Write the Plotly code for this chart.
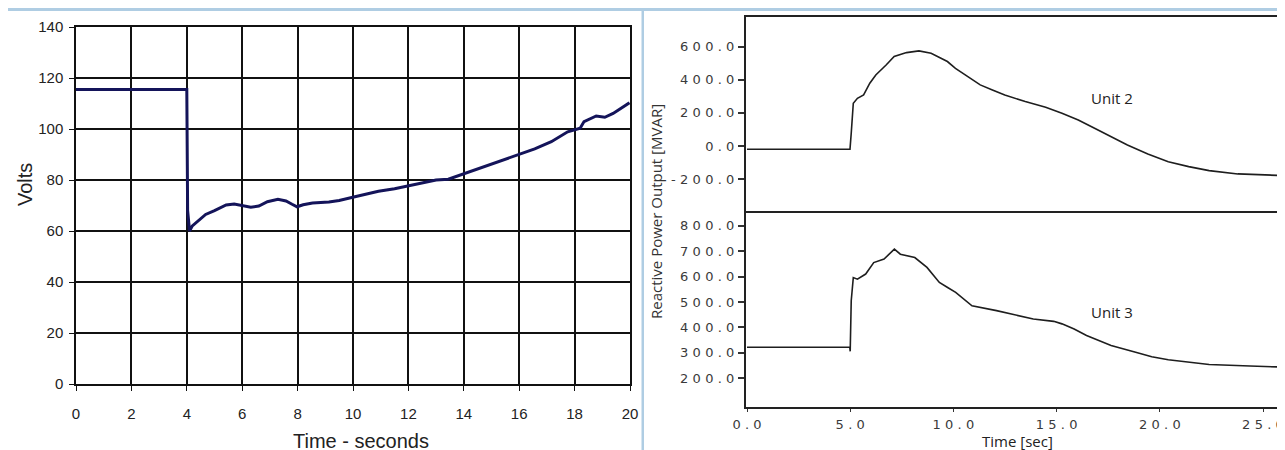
import plotly.graph_objects as go

W, H = 1285, 450

# ---------------- data ----------------
# Left chart: Volts vs time (s)
volt_t = [0, 4.0, 4.03, 4.1, 4.2, 4.38, 4.68, 5.0, 5.42, 5.71, 6.0, 6.31, 6.6, 6.91,
          7.29, 7.58, 7.8, 7.98, 8.2, 8.54, 9.13, 9.5, 10.03, 10.5, 10.92, 11.5,
          11.96, 12.5, 13.0, 13.44, 14.04, 14.5, 15.08, 15.6, 16.12, 16.56, 17.16,
          17.75, 18.2, 18.34, 18.78, 19.09, 19.39, 19.7, 19.98]
volt_v = [115.5, 115.5, 68, 60, 62, 63.6, 66.5, 68, 70.2, 70.6, 70, 69.3, 69.8, 71.5,
          72.4, 71.8, 70.5, 69.5, 70.3, 71.0, 71.4, 72, 73.3, 74.5, 75.6, 76.6,
          77.6, 78.8, 80.0, 80.3, 82.6, 84.3, 86.5, 88.3, 90.4, 92.2, 95.0,
          98.9, 100.3, 102.9, 105.1, 104.6, 106.1, 108.2, 110.3]

# Right chart: reactive power (MVAR), Unit 2 and Unit 3
u2_t = [0, 2, 3.2, 4.99, 5.05, 5.15, 5.35, 5.65, 5.95, 6.24, 6.74, 7.13, 7.73, 8.33,
        8.92, 9.71, 10.1, 10.7, 11.3, 11.89, 12.49, 13.48, 14.47, 15.26, 16.05,
        16.84, 17.64, 18.43, 19.42, 20.41, 21.4, 22.39, 23.78, 26.0]
u2_q = [-20, -20, -22, -20, 77, 258, 288, 308, 379, 429, 489, 540, 564, 574,
        560, 510, 469, 419, 369, 338, 308, 268, 234, 197, 157,
        107, 56, 6, -48, -95, -125, -149, -169, -179]

u3_t = [0, 2, 4.0, 4.98, 5.0, 5.05, 5.15, 5.35, 5.75, 6.14, 6.64, 7.14, 7.43, 8.13,
        8.72, 9.32, 9.72, 10.11, 10.9, 11.49, 12.09, 13.87, 14.86, 15.26, 15.85,
        16.45, 17.04, 17.64, 18.83, 19.61, 20.41, 22.39, 24.37, 26.0]
u3_q = [322, 322, 324, 322, 306, 505, 596, 590, 610, 655, 669, 708, 688, 675,
        636, 577, 557, 538, 485, 476, 466, 433, 424, 414, 394,
        368, 348, 329, 302, 285, 273, 254, 248, 244]

left_xticks = [0, 2, 4, 6, 8, 10, 12, 14, 16, 18, 20]
left_yticks = [0, 20, 40, 60, 80, 100, 120, 140]
u2_yticks = [600, 400, 200, 0, -200]
u3_yticks = [800, 700, 600, 500, 400, 300, 200]
right_xticks = [0, 5, 10, 15, 20, 25]

# ---------------- helpers ----------------
OX, OY = 8, 8  # page offset of the figure inside the browser window


def fx(px):
    return (px - OX) / W


def fy(py):
    return (H - (py - OY)) / H


SP = "\u2004"


def spaced(v):
    s = f"{v:.1f}"
    return SP.join(list(s))


BLUE = "#afcde3"

fig = go.Figure()

fig.add_trace(go.Scatter(x=volt_t, y=volt_v, mode="lines",
                         line=dict(color="#14145a", width=3),
                         xaxis="x", yaxis="y", showlegend=False))
fig.add_trace(go.Scatter(x=u2_t, y=u2_q, mode="lines",
                         line=dict(color="#1e1e1e", width=1.6),
                         xaxis="x2", yaxis="y2", showlegend=False))
fig.add_trace(go.Scatter(x=u3_t, y=u3_q, mode="lines",
                         line=dict(color="#1e1e1e", width=1.6),
                         xaxis="x3", yaxis="y3", showlegend=False))

left_font = dict(family="Liberation Sans, Arial", size=15, color="#222")
right_font = dict(family="DejaVu Sans", size=13, color="#3a3a3a")

# right-panel x range so that t=0 sits at px 747 with 20.64 px per second
R_X0 = 746
R_X1 = W + OX
r_range = [(R_X0 - 747) / 20.64, (R_X1 - 747) / 20.64]


def ann(text, x, y, size, family, color="#222", angle=0):
    return dict(text=text, x=fx(x), y=fy(y), xref="paper", yref="paper",
                xanchor="center", yanchor="middle", textangle=angle,
                showarrow=False, font=dict(family=family, size=size, color=color))


fig.update_layout(
    width=W, height=H, autosize=False,
    margin=dict(l=0, r=0, t=0, b=0, pad=0, autoexpand=False),
    paper_bgcolor=BLUE, plot_bgcolor="rgba(0,0,0,0)",
    xaxis=dict(domain=[fx(76), fx(630)], range=[0, 20], anchor="y", automargin=False,
               tickvals=left_xticks, ticks="outside", ticklen=5, tickcolor="#111",
               showgrid=True, gridcolor="#111", gridwidth=1.5,
               showline=True, linecolor="#111", linewidth=1.5, mirror=True,
               zeroline=False, tickfont=left_font, ticklabelstandoff=10),
    yaxis=dict(domain=[fy(384), fy(27)], range=[0, 140], anchor="x", automargin=False,
               tickvals=left_yticks, ticks="outside", ticklen=5, tickcolor="#111",
               showgrid=True, gridcolor="#111", gridwidth=1.5,
               showline=True, linecolor="#111", linewidth=1.5, mirror=True,
               zeroline=False, tickfont=left_font, ticklabelstandoff=3),
    xaxis2=dict(domain=[fx(R_X0), fx(R_X1)], range=r_range, anchor="y2", automargin=False,
                showticklabels=False, ticks="", showgrid=False, zeroline=False,
                showline=True, linecolor="#222", linewidth=2, mirror=True),
    yaxis2=dict(domain=[fy(211), fy(17)], range=[-393, 779], anchor="x2", automargin=False,
                tickvals=u2_yticks, ticktext=[spaced(v) for v in u2_yticks],
                ticks="outside", ticklen=6, tickcolor="#333", tickwidth=1.5,
                showgrid=False, zeroline=False,
                showline=True, linecolor="#222", linewidth=2,
                tickfont=right_font, ticklabelstandoff=1),
    xaxis3=dict(domain=[fx(R_X0), fx(R_X1)], range=r_range, anchor="y3", automargin=False,
                tickvals=right_xticks, ticktext=[spaced(v) for v in right_xticks],
                ticks="outside", ticklen=3, tickcolor="#333",
                showgrid=False, zeroline=False,
                showline=True, linecolor="#222", linewidth=2,
                tickfont=right_font, ticklabelstandoff=1),
    yaxis3=dict(domain=[fy(407), fy(211)], range=[87, 858], anchor="x3", automargin=False,
                tickvals=u3_yticks, ticktext=[spaced(v) for v in u3_yticks],
                ticks="outside", ticklen=6, tickcolor="#333", tickwidth=1.5,
                showgrid=False, zeroline=False,
                showline=True, linecolor="#222", linewidth=2,
                tickfont=right_font, ticklabelstandoff=1),
    shapes=[
        dict(type="rect", xref="paper", yref="paper", x0=fx(8), x1=fx(641.5),
             y0=0, y1=fy(11), fillcolor="white", line=dict(width=0), layer="below"),
        dict(type="rect", xref="paper", yref="paper", x0=fx(644), x1=1,
             y0=0, y1=fy(11), fillcolor="white", line=dict(width=0), layer="below"),
    ],
    annotations=[
        ann("Volts", 25, 185, 20, "Liberation Sans, Arial", angle=-90),
        ann("Time - seconds", 361, 441, 20, "Liberation Sans, Arial"),
        ann("Reactive Power Output [MVAR]", 656, 212, 15, "Open Sans", "#333", angle=-90),
        ann("Time [sec]", 1017, 441, 15, "Open Sans"),
        ann("Unit 2", 1112, 98, 15, "Open Sans"),
        ann("Unit 3", 1112, 312, 15, "Open Sans"),
    ],
)

fig.write_html("out.html")
